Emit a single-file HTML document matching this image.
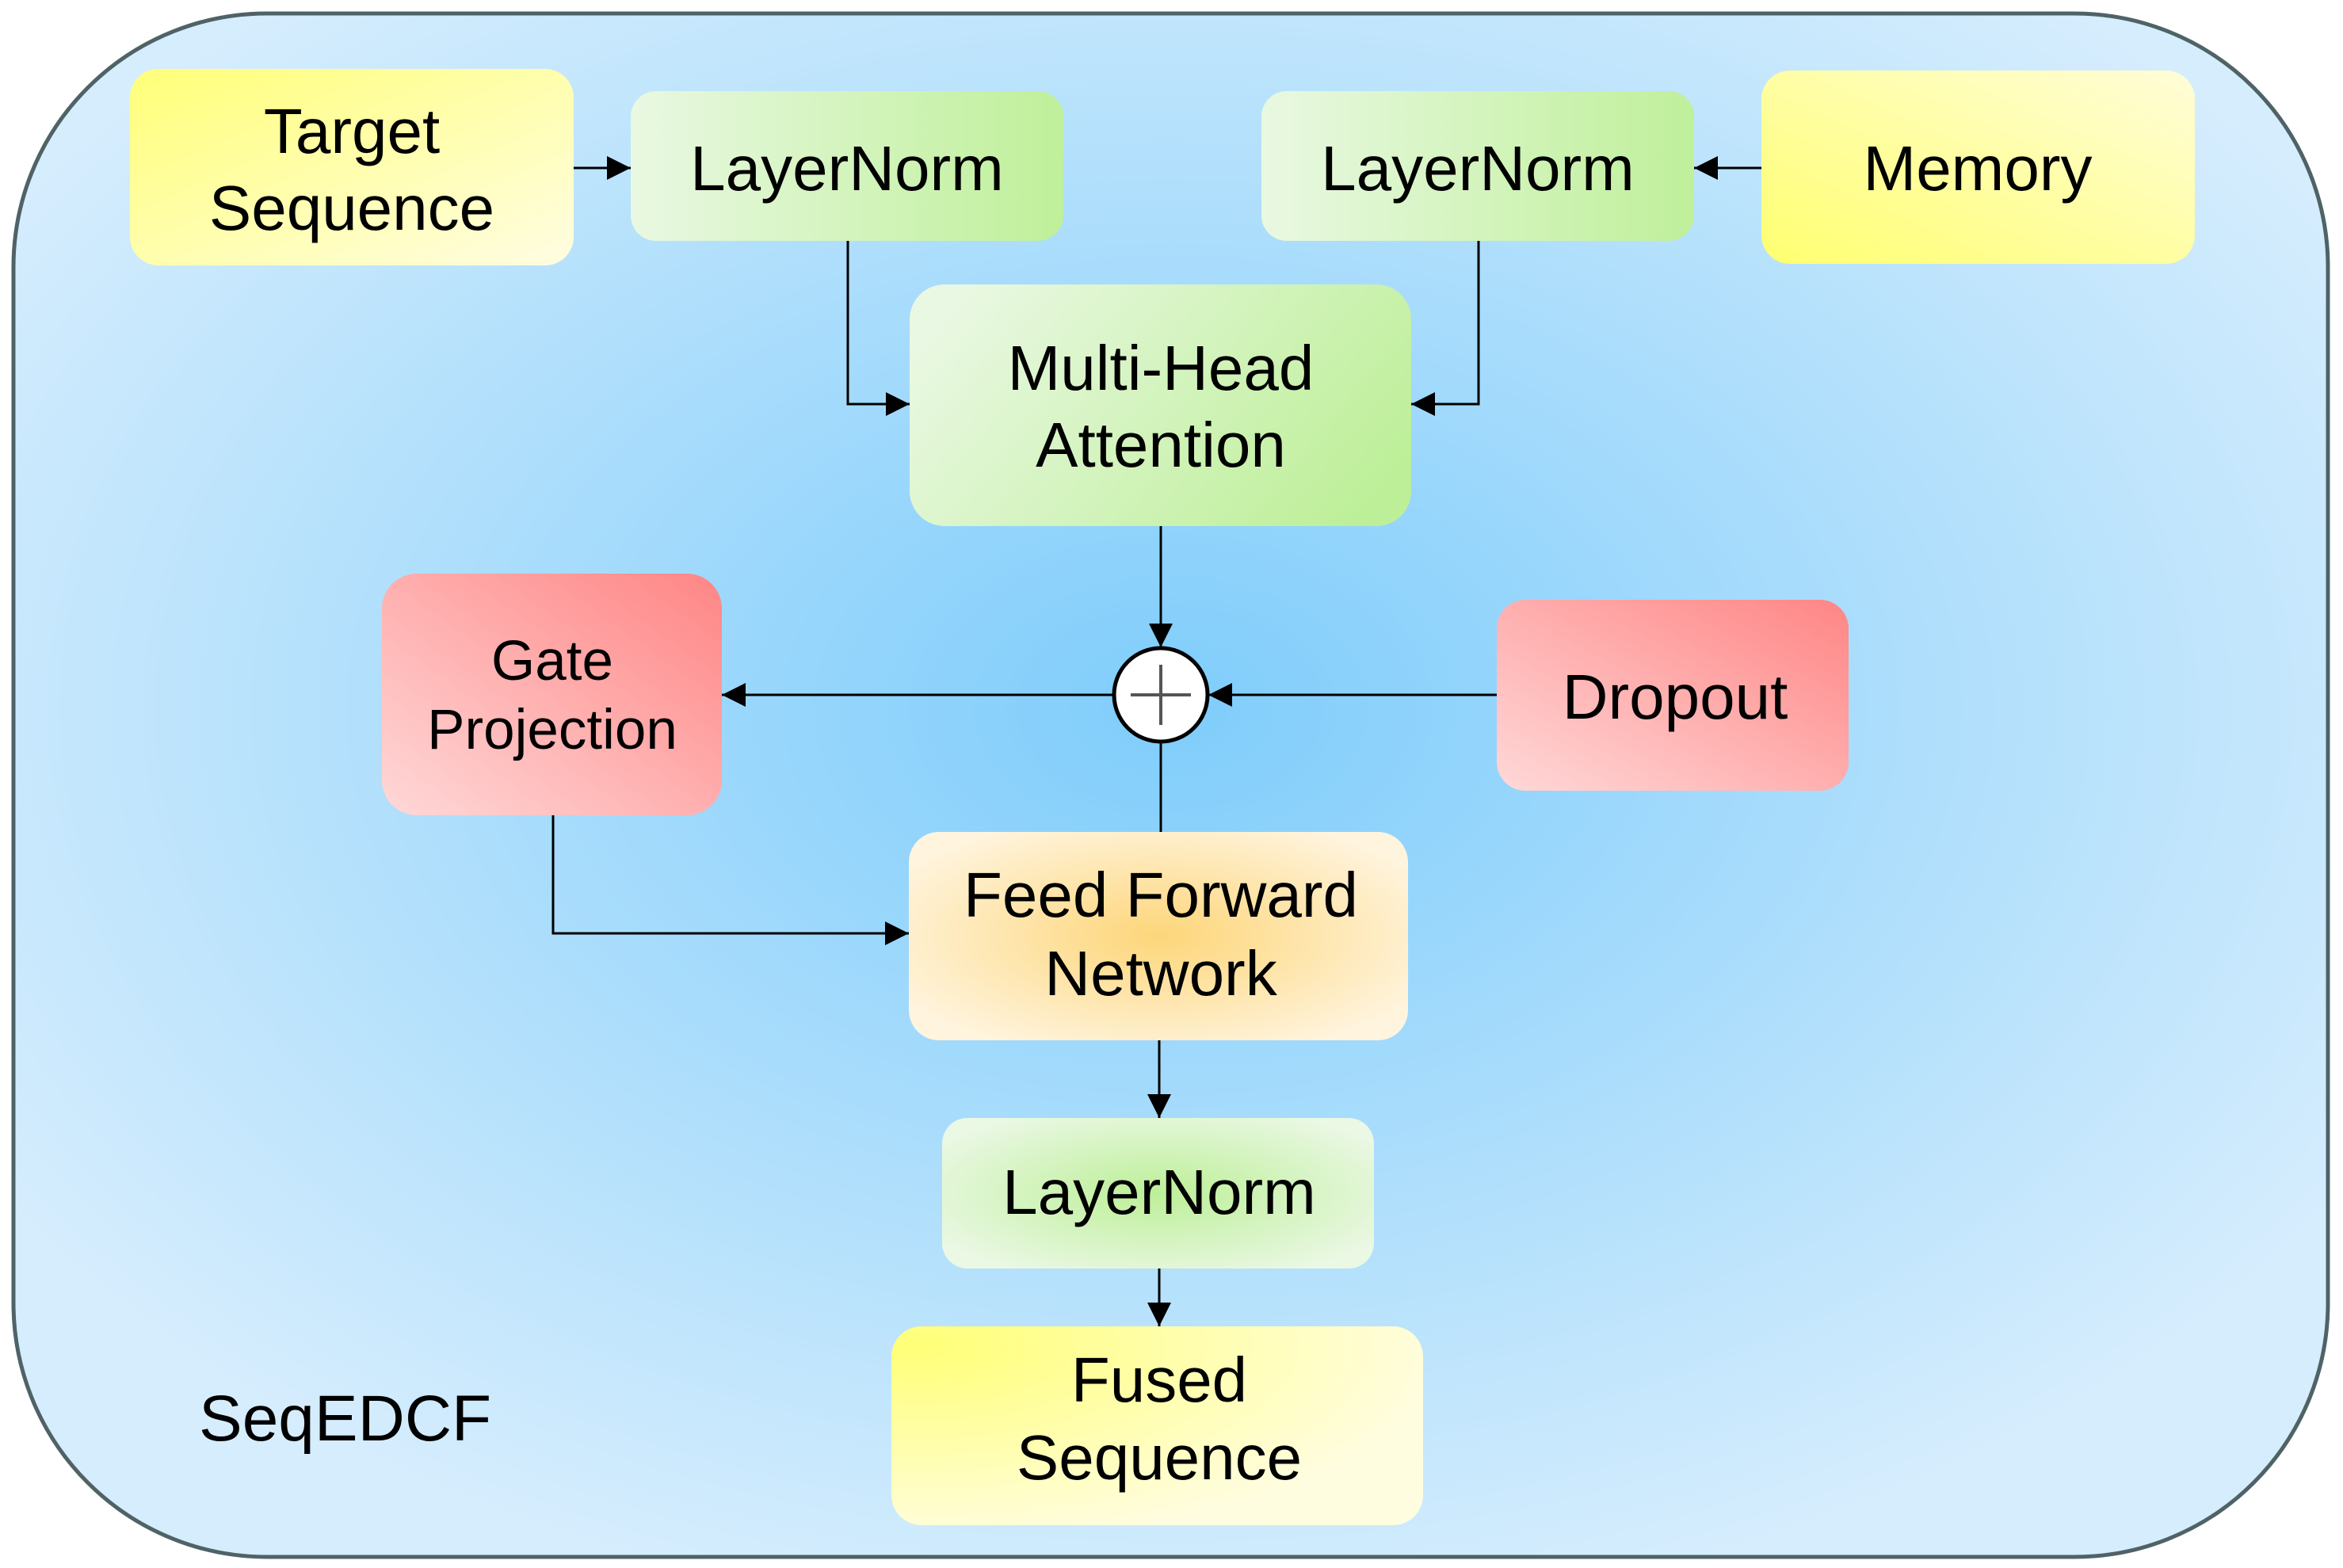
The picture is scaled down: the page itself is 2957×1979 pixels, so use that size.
<!DOCTYPE html>
<html><head><meta charset="utf-8"><style>html,body{margin:0;padding:0;background:#fff}svg{display:block}</style></head>
<body>
<svg width="2957" height="1979" viewBox="0 0 2957 1979" xmlns="http://www.w3.org/2000/svg" font-family="Liberation Sans, sans-serif">
<defs>
<radialGradient id="bg" cx="0.5" cy="0.45" r="0.6"><stop offset="0" stop-color="#7fcdfb"/><stop offset="1" stop-color="#d6edfd"/></radialGradient>
<linearGradient id="ylTL" x1="0" y1="0" x2="1" y2="1"><stop offset="0" stop-color="#ffff78"/><stop offset="1" stop-color="#fffde2"/></linearGradient>
<linearGradient id="ylBL" x1="0" y1="1" x2="1" y2="0"><stop offset="0" stop-color="#ffff70"/><stop offset="1" stop-color="#fffdd8"/></linearGradient>
<linearGradient id="gnLR" x1="0" y1="0" x2="1" y2="0"><stop offset="0" stop-color="#e9f8e2"/><stop offset="1" stop-color="#bff09a"/></linearGradient>
<linearGradient id="gnMHA" x1="0" y1="0.3" x2="1" y2="0.7"><stop offset="0" stop-color="#e9f8e2"/><stop offset="1" stop-color="#bdef98"/></linearGradient>
<linearGradient id="rd" x1="0" y1="1" x2="1" y2="0"><stop offset="0" stop-color="#ffd8d8"/><stop offset="1" stop-color="#ff8585"/></linearGradient>
<radialGradient id="ffn" cx="0.5" cy="0.5" r="0.6"><stop offset="0" stop-color="#fdd67a"/><stop offset="1" stop-color="#fff4de"/></radialGradient>
<radialGradient id="ln3" cx="0.5" cy="0.5" r="0.6"><stop offset="0" stop-color="#bdef98"/><stop offset="1" stop-color="#eaf8e4"/></radialGradient>
<radialGradient id="fused" cx="0.05" cy="0.1" r="1"><stop offset="0" stop-color="#ffff78"/><stop offset="1" stop-color="#fffde0"/></radialGradient>
<marker id="A" viewBox="0 0 10 10" refX="10" refY="5" markerWidth="32" markerHeight="30" orient="auto" markerUnits="userSpaceOnUse"><path d="M0,0 L10,5 L0,10 z" fill="#000"/></marker>
</defs>
<rect x="17" y="17" width="2921" height="1948" rx="320" ry="320" fill="url(#bg)" stroke="#4f6367" stroke-width="5"/>

<g stroke="#000" stroke-width="3" fill="none">
<path d="M724 212 H796" marker-end="url(#A)"/>
<path d="M2223 212 H2138" marker-end="url(#A)"/>
<path d="M1070 304 V510 H1148" marker-end="url(#A)"/>
<path d="M1866 304 V510 H1781" marker-end="url(#A)"/>
<path d="M1465 664 V817" marker-end="url(#A)"/>
<path d="M1405 877 H911" marker-end="url(#A)"/>
<path d="M1891 877 H1525" marker-end="url(#A)"/>
<path d="M1465 937 V1050"/>
<path d="M698 1029 V1178 H1147" marker-end="url(#A)"/>
<path d="M1463 1313 V1411" marker-end="url(#A)"/>
<path d="M1463 1601 V1674" marker-end="url(#A)"/>
</g>

<rect x="164" y="87" width="560" height="248" rx="36" fill="url(#ylTL)"/>
<rect x="796" y="115" width="546" height="189" rx="32" fill="url(#gnLR)"/>
<rect x="1592" y="115" width="546" height="189" rx="32" fill="url(#gnLR)"/>
<rect x="2223" y="89" width="547" height="244" rx="36" fill="url(#ylBL)"/>
<rect x="1148" y="359" width="633" height="305" rx="44" fill="url(#gnMHA)"/>
<rect x="482" y="724" width="429" height="305" rx="44" fill="url(#rd)"/>
<rect x="1889" y="757" width="444" height="241" rx="36" fill="url(#rd)"/>
<rect x="1147" y="1050" width="630" height="263" rx="38" fill="url(#ffn)"/>
<rect x="1189" y="1411" width="545" height="190" rx="32" fill="url(#ln3)"/>
<rect x="1125" y="1674" width="671" height="251" rx="38" fill="url(#fused)"/>

<circle cx="1465" cy="877" r="59" fill="#fff" stroke="#000" stroke-width="5"/>
<path d="M1427 877 H1503 M1465 839 V915" stroke="#555" stroke-width="4"/>

<g font-size="80" text-anchor="middle" fill="#000">
<text x="444" y="193">Target</text>
<text x="444" y="290">Sequence</text>
<text x="1069" y="240">LayerNorm</text>
<text x="1865" y="240">LayerNorm</text>
<text x="2496" y="240">Memory</text>
<text x="1465" y="492">Multi-Head</text>
<text x="1465" y="589">Attention</text>
<text x="1465" y="1157">Feed Forward</text>
<text x="1465" y="1256">Network</text>
<text x="1463" y="1532">LayerNorm</text>
<text x="1463" y="1769">Fused</text>
<text x="1463" y="1867">Sequence</text>
<text x="2114" y="907">Dropout</text>
</g>
<g font-size="71" text-anchor="middle" fill="#000">
<text x="697" y="858">Gate</text>
<text x="697" y="945">Projection</text>
</g>
<text x="251" y="1818" font-size="82" fill="#000">SeqEDCF</text>
</svg>
</body></html>
